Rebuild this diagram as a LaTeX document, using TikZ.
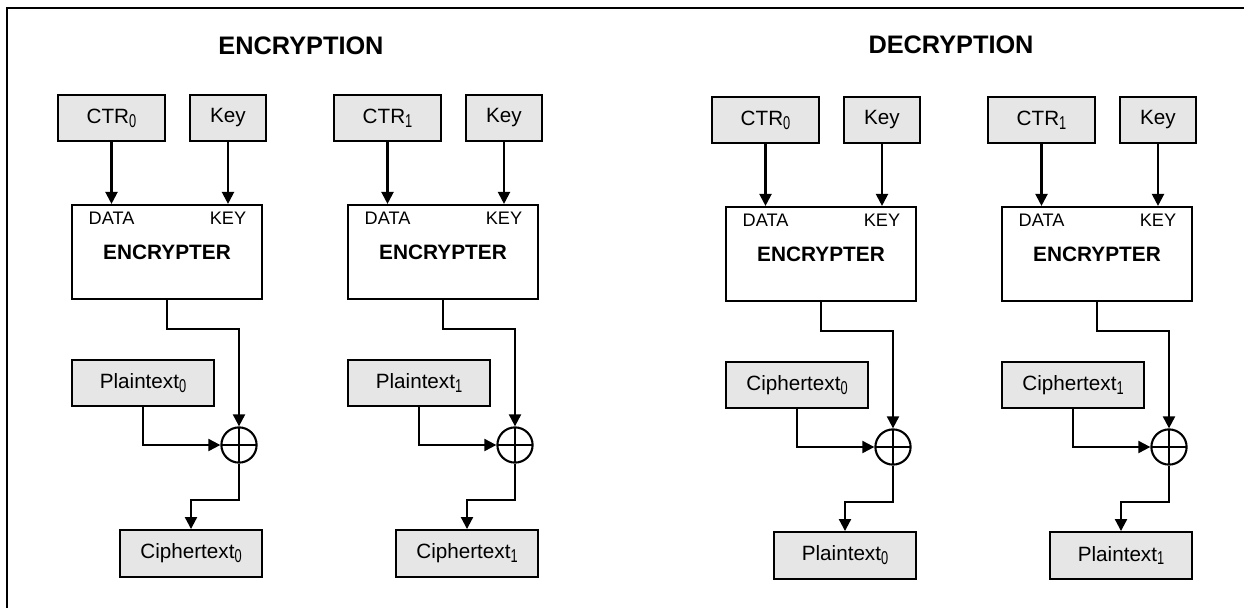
\documentclass[tikz,border=0pt]{standalone}
\usepackage{fontspec}
\usepackage{graphicx}
\setmainfont{Liberation Sans}
\usetikzlibrary{arrows.meta,positioning}
\definecolor{boxgray}{RGB}{230,230,230}
\newcommand{\idx}[1]{\raisebox{-2.8pt}{\scalebox{0.62}[0.9]{#1}}}

\begin{document}
\begin{tikzpicture}[x=0.025cm,y=-0.025cm,line width=1.5pt,>={Triangle[length=8.5pt,width=8.5pt]},
  every node/.style={font=\fontsize{14.7}{17}\selectfont},
  inbox/.style={draw,fill=boxgray,minimum height=1.15cm},
  encbox/.style={draw,minimum width=4.75cm,minimum height=2.35cm,font=\fontsize{14.8}{17}\selectfont\bfseries},
  portlbl/.style={font=\fontsize{12.9}{15}\selectfont,anchor=north,inner sep=0pt,yshift=-5pt},
  xorc/.style={draw,circle,minimum size=0.88cm,inner sep=0pt,
    path picture={\draw[line width=1.9pt] (path picture bounding box.north)--(path picture bounding box.south)
      (path picture bounding box.west)--(path picture bounding box.east);}},
  title/.style={font=\fontsize{18}{21}\selectfont\bfseries}]
\useasboundingbox (0,0) rectangle (1244,607);
\draw (7,612) -- (7,8) -- (1250,8);
\node[title] (enctitle) at (301,46) {ENCRYPTION};
\node[title] (dectitle) at (951,45) {DECRYPTION};
% one counter-mode block per entry: shift, name, index, input, output
\foreach \dx/\dy/\n/\s/\tin/\tout in {0/0/ea/0/Plaintext/Ciphertext,276/0/eb/1/Plaintext/Ciphertext,
    654/2/da/0/Ciphertext/Plaintext,930/2/db/1/Ciphertext/Plaintext}{
\begin{scope}[shift={(\dx,\dy)}]
\node[inbox,minimum width=2.675cm] (\n-ctr) at (111.5,118) {CTR\idx{\s}};
\node[inbox,minimum width=1.9cm] (\n-key) at (228,118) {Key};
\node[encbox] (\n-enc) at (167,252) {ENCRYPTER};
\node[portlbl] (\n-data) at (\n-ctr |- \n-enc.north) {DATA};
\node[portlbl] (\n-kin) at (\n-key |- \n-enc.north) {KEY};
\node[inbox,minimum width=3.55cm] (\n-inp) at (143,383) {\tin\idx{\s}};
\node[xorc] (\n-xor) at (239,445) {};
\node[inbox,minimum width=3.55cm,minimum height=1.17cm] (\n-out) at (191,553.5) {\tout\idx{\s}};
\draw[->] (\n-ctr) -- (\n-ctr |- \n-enc.north);
\draw[->] (\n-key) -- (\n-key |- \n-enc.north);
\draw[->] (\n-enc.south) -- ++(0,29) -| (\n-xor.north);
\draw[->] (\n-inp) |- (\n-xor);
\draw[->] (\n-xor.south) -- ++(0,36) -| (\n-out);
\end{scope}
}
\end{tikzpicture}
\end{document}
